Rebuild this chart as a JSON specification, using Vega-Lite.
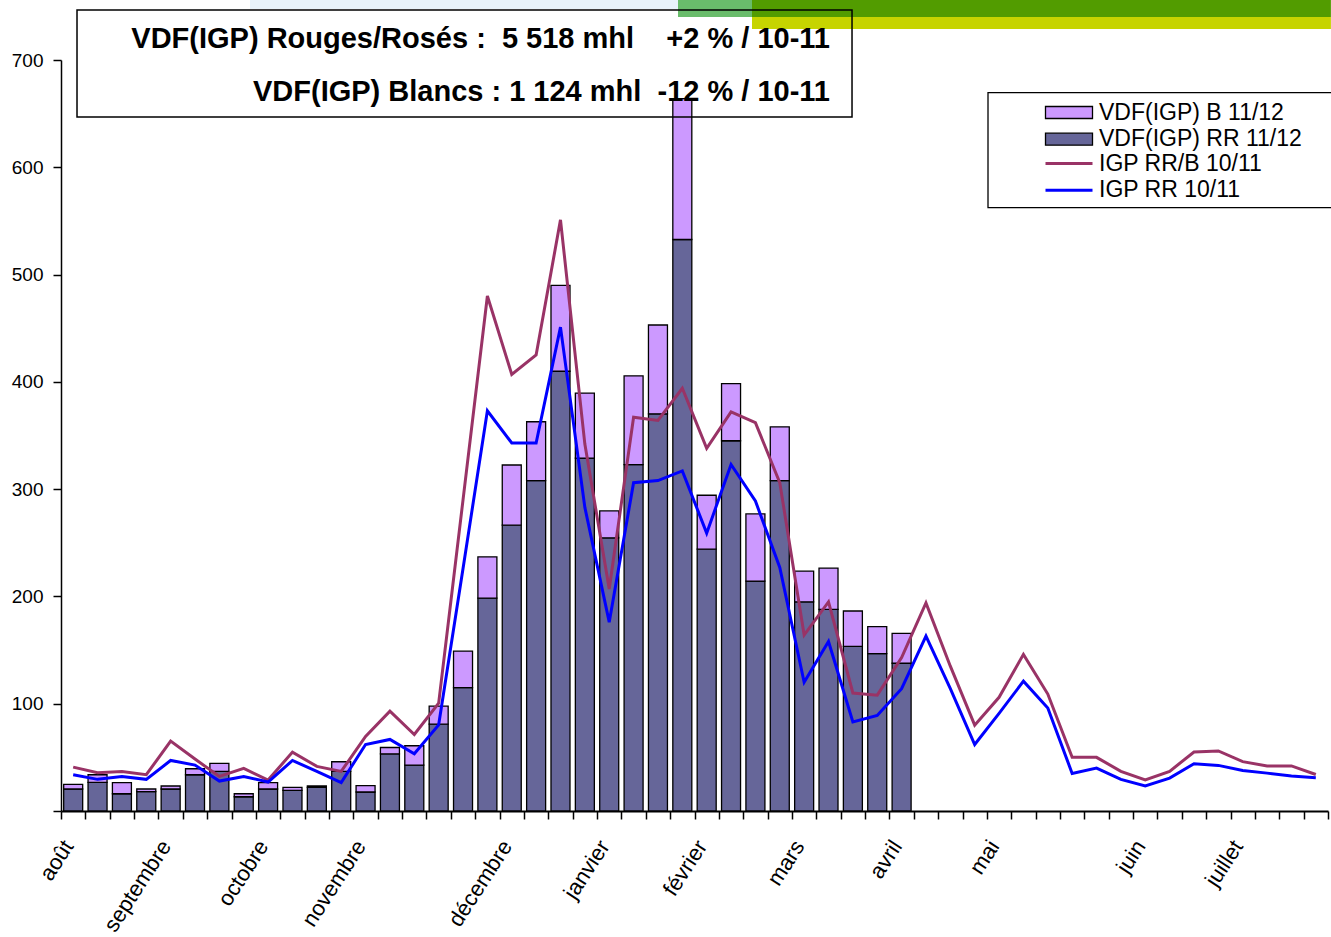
{
  "$schema": "https://vega.github.io/schema/vega-lite/v6.json",
  "width": 1267,
  "height": 751,
  "autosize": "none",
  "padding": {"left": 61, "top": 60, "right": 3, "bottom": 126},
  "background": "white",
  "config": {"view": {"stroke": null}, "font": "Liberation Sans"},
  "datasets": {
    "d": [
      {"w": 1, "VDF(IGP) RR 11/12": 20.5, "VDF(IGP) B 11/12": 4.3, "IGP RR/B 10/11": 40.9, "IGP RR 10/11": 33.8},
      {"w": 2, "VDF(IGP) RR 11/12": 26.7, "VDF(IGP) B 11/12": 7.1, "IGP RR/B 10/11": 35.7, "IGP RR 10/11": 29.5},
      {"w": 3, "VDF(IGP) RR 11/12": 16.1, "VDF(IGP) B 11/12": 10.3, "IGP RR/B 10/11": 36.9, "IGP RR 10/11": 32.2},
      {"w": 4, "VDF(IGP) RR 11/12": 18.0, "VDF(IGP) B 11/12": 2.5, "IGP RR/B 10/11": 33.8, "IGP RR 10/11": 29.5},
      {"w": 5, "VDF(IGP) RR 11/12": 20.5, "VDF(IGP) B 11/12": 2.8, "IGP RR/B 10/11": 65.1, "IGP RR 10/11": 47.1},
      {"w": 6, "VDF(IGP) RR 11/12": 33.8, "VDF(IGP) B 11/12": 5.6, "IGP RR/B 10/11": 48.4, "IGP RR 10/11": 42.8},
      {"w": 7, "VDF(IGP) RR 11/12": 36.9, "VDF(IGP) B 11/12": 7.4, "IGP RR/B 10/11": 32.2, "IGP RR 10/11": 27.9},
      {"w": 8, "VDF(IGP) RR 11/12": 13.3, "VDF(IGP) B 11/12": 2.8, "IGP RR/B 10/11": 39.7, "IGP RR 10/11": 32.2},
      {"w": 9, "VDF(IGP) RR 11/12": 20.5, "VDF(IGP) B 11/12": 5.9, "IGP RR/B 10/11": 28.8, "IGP RR 10/11": 27.0},
      {"w": 10, "VDF(IGP) RR 11/12": 19.2, "VDF(IGP) B 11/12": 2.8, "IGP RR/B 10/11": 54.9, "IGP RR 10/11": 47.1},
      {"w": 11, "VDF(IGP) RR 11/12": 22.0, "VDF(IGP) B 11/12": 1.3, "IGP RR/B 10/11": 41.6, "IGP RR 10/11": 36.9},
      {"w": 12, "VDF(IGP) RR 11/12": 36.9, "VDF(IGP) B 11/12": 9.0, "IGP RR/B 10/11": 36.9, "IGP RR 10/11": 26.4},
      {"w": 13, "VDF(IGP) RR 11/12": 17.7, "VDF(IGP) B 11/12": 5.9, "IGP RR/B 10/11": 69.5, "IGP RR 10/11": 62.0},
      {"w": 14, "VDF(IGP) RR 11/12": 53.3, "VDF(IGP) B 11/12": 5.9, "IGP RR/B 10/11": 93.0, "IGP RR 10/11": 66.7},
      {"w": 15, "VDF(IGP) RR 11/12": 42.8, "VDF(IGP) B 11/12": 18.0, "IGP RR/B 10/11": 71.3, "IGP RR 10/11": 53.3},
      {"w": 16, "VDF(IGP) RR 11/12": 80.9, "VDF(IGP) B 11/12": 16.8, "IGP RR/B 10/11": 100.5, "IGP RR 10/11": 80.3},
      {"w": 17, "VDF(IGP) RR 11/12": 115.0, "VDF(IGP) B 11/12": 34.1, "IGP RR/B 10/11": 290, "IGP RR 10/11": 226},
      {"w": 18, "VDF(IGP) RR 11/12": 198.4, "VDF(IGP) B 11/12": 38.5, "IGP RR/B 10/11": 480, "IGP RR 10/11": 373},
      {"w": 19, "VDF(IGP) RR 11/12": 266.4, "VDF(IGP) B 11/12": 56.1, "IGP RR/B 10/11": 407, "IGP RR 10/11": 343},
      {"w": 20, "VDF(IGP) RR 11/12": 307.9, "VDF(IGP) B 11/12": 54.9, "IGP RR/B 10/11": 425, "IGP RR 10/11": 343},
      {"w": 21, "VDF(IGP) RR 11/12": 409.9, "VDF(IGP) B 11/12": 80.0, "IGP RR/B 10/11": 551, "IGP RR 10/11": 451},
      {"w": 22, "VDF(IGP) RR 11/12": 329.0, "VDF(IGP) B 11/12": 60.5, "IGP RR/B 10/11": 342, "IGP RR 10/11": 283},
      {"w": 23, "VDF(IGP) RR 11/12": 254.6, "VDF(IGP) B 11/12": 25.1, "IGP RR/B 10/11": 207, "IGP RR 10/11": 176},
      {"w": 24, "VDF(IGP) RR 11/12": 322.8, "VDF(IGP) B 11/12": 82.8, "IGP RR/B 10/11": 367, "IGP RR 10/11": 306},
      {"w": 25, "VDF(IGP) RR 11/12": 370.2, "VDF(IGP) B 11/12": 82.8, "IGP RR/B 10/11": 364, "IGP RR 10/11": 308},
      {"w": 26, "VDF(IGP) RR 11/12": 532.7, "VDF(IGP) B 11/12": 131.3, "IGP RR/B 10/11": 394, "IGP RR 10/11": 317},
      {"w": 27, "VDF(IGP) RR 11/12": 244.0, "VDF(IGP) B 11/12": 50.3, "IGP RR/B 10/11": 338, "IGP RR 10/11": 259},
      {"w": 28, "VDF(IGP) RR 11/12": 345.1, "VDF(IGP) B 11/12": 53.3, "IGP RR/B 10/11": 372, "IGP RR 10/11": 323},
      {"w": 29, "VDF(IGP) RR 11/12": 214.3, "VDF(IGP) B 11/12": 62.6, "IGP RR/B 10/11": 362, "IGP RR 10/11": 289},
      {"w": 30, "VDF(IGP) RR 11/12": 307.9, "VDF(IGP) B 11/12": 50.2, "IGP RR/B 10/11": 306, "IGP RR 10/11": 227},
      {"w": 31, "VDF(IGP) RR 11/12": 195.0, "VDF(IGP) B 11/12": 28.6, "IGP RR/B 10/11": 164, "IGP RR 10/11": 120},
      {"w": 32, "VDF(IGP) RR 11/12": 187.9, "VDF(IGP) B 11/12": 38.5, "IGP RR/B 10/11": 195, "IGP RR 10/11": 158},
      {"w": 33, "VDF(IGP) RR 11/12": 153.5, "VDF(IGP) B 11/12": 32.9, "IGP RR/B 10/11": 110, "IGP RR 10/11": 83},
      {"w": 34, "VDF(IGP) RR 11/12": 146.7, "VDF(IGP) B 11/12": 25.1, "IGP RR/B 10/11": 108, "IGP RR 10/11": 89},
      {"w": 35, "VDF(IGP) RR 11/12": 137.7, "VDF(IGP) B 11/12": 27.9, "IGP RR/B 10/11": 143, "IGP RR 10/11": 114},
      {"w": 36, "IGP RR/B 10/11": 194, "IGP RR 10/11": 163},
      {"w": 37, "IGP RR/B 10/11": 135, "IGP RR 10/11": 114},
      {"w": 38, "IGP RR/B 10/11": 80, "IGP RR 10/11": 62},
      {"w": 39, "IGP RR/B 10/11": 106, "IGP RR 10/11": 91},
      {"w": 40, "IGP RR/B 10/11": 146, "IGP RR 10/11": 121},
      {"w": 41, "IGP RR/B 10/11": 109, "IGP RR 10/11": 96},
      {"w": 42, "IGP RR/B 10/11": 50, "IGP RR 10/11": 35},
      {"w": 43, "IGP RR/B 10/11": 50, "IGP RR 10/11": 40},
      {"w": 44, "IGP RR/B 10/11": 37, "IGP RR 10/11": 29.5},
      {"w": 45, "IGP RR/B 10/11": 29, "IGP RR 10/11": 23.3},
      {"w": 46, "IGP RR/B 10/11": 37, "IGP RR 10/11": 30.7},
      {"w": 47, "IGP RR/B 10/11": 55, "IGP RR 10/11": 44},
      {"w": 48, "IGP RR/B 10/11": 56, "IGP RR 10/11": 42.5},
      {"w": 49, "IGP RR/B 10/11": 46, "IGP RR 10/11": 37.8},
      {"w": 50, "IGP RR/B 10/11": 42, "IGP RR 10/11": 35.3},
      {"w": 51, "IGP RR/B 10/11": 42, "IGP RR 10/11": 32.6},
      {"w": 52, "IGP RR/B 10/11": 34, "IGP RR 10/11": 31}
    ]
  },
  "layer": [
    {
      "data": {"name": "d"},
      "transform": [
        {"fold": ["VDF(IGP) RR 11/12", "VDF(IGP) B 11/12"], "as": ["serie", "v"]},
        {"filter": "isValid(datum.v)"}
      ],
      "mark": {"type": "bar", "width": 19, "stroke": "black", "strokeWidth": 1.3},
      "encoding": {
        "x": {
          "field": "w", "type": "quantitative",
          "scale": {"domain": [0.5, 52.5], "nice": false, "zero": false, "padding": 0},
          "axis": {
            "title": null, "grid": false,
            "values": [0.5,1.5,2.5,3.5,4.5,5.5,6.5,7.5,8.5,9.5,10.5,11.5,12.5,13.5,14.5,15.5,16.5,17.5,18.5,19.5,20.5,21.5,22.5,23.5,24.5,25.5,26.5,27.5,28.5,29.5,30.5,31.5,32.5,33.5,34.5,35.5,36.5,37.5,38.5,39.5,40.5,41.5,42.5,43.5,44.5,45.5,46.5,47.5,48.5,49.5,50.5,51.5,52.5],
            "tickCount": 200,
            "labelExpr": "datum.value == 0.5 ? 'août' : datum.value == 4.5 ? 'septembre' : datum.value == 8.5 ? 'octobre' : datum.value == 12.5 ? 'novembre' : datum.value == 18.5 ? 'décembre' : datum.value == 22.5 ? 'janvier' : datum.value == 26.5 ? 'février' : datum.value == 30.5 ? 'mars' : datum.value == 34.5 ? 'avril' : datum.value == 38.5 ? 'mai' : datum.value == 44.5 ? 'juin' : datum.value == 48.5 ? 'juillet' : ''",
            "labelOffset": 7,
            "labelAngle": -57,
            "labelAlign": "right",
            "labelBaseline": "middle",
            "labelPadding": 23,
            "labelFontSize": 22,
            "labelFont": "Liberation Sans",
            "labelColor": "black",
            "labelOverlap": false,
            "labelFlush": false,
            "labelBound": false,
            "tickSize": 8,
            "tickColor": "black",
            "tickWidth": 1.5,
            "domainColor": "black",
            "domainWidth": 2
          }
        },
        "y": {
          "field": "v", "type": "quantitative", "stack": "zero",
          "scale": {"domain": [0, 700], "nice": false, "padding": 0},
          "axis": {
            "title": null, "grid": false,
            "values": [0, 100, 200, 300, 400, 500, 600, 700],
            "tickCount": 20,
            "labelExpr": "datum.value == 0 ? '' : datum.label",
            "labelFontSize": 19,
            "labelFont": "Liberation Sans",
            "labelColor": "black",
            "labelPadding": 10,
            "tickSize": 8,
            "tickColor": "black",
            "tickWidth": 1.5,
            "domainColor": "black",
            "domainWidth": 1.5
          }
        },
        "fill": {
          "field": "serie", "type": "nominal",
          "scale": {"domain": ["VDF(IGP) B 11/12", "VDF(IGP) RR 11/12"], "range": ["#cc99ff", "#666699"]},
          "legend": {
            "orient": "none",
            "legendX": 927,
            "legendY": 33,
            "title": null,
            "padding": 8,
            "labelFont": "Liberation Sans",
            "labelFontSize": 23,
            "labelColor": "black",
            "labelLimit": 400,
            "rowPadding": 2.7,
            "symbolSize": 100,
            "symbolOffset": 61.5,
            "labelOffset": 18.5,
            "symbolType": "M-4.7,-1.2H4.7V1.2H-4.7Z",
            "symbolStrokeColor": "black",
            "symbolStrokeWidth": 1.3,
            "symbolOpacity": 1
          }
        },
        "detail": {"field": "serie"},
        "order": {"field": "serie", "sort": "descending"}
      }
    },
    {
      "data": {"name": "d"},
      "transform": [
        {"fold": ["IGP RR/B 10/11", "IGP RR 10/11"], "as": ["serie", "v"]},
        {"filter": "isValid(datum.v)"}
      ],
      "mark": {"type": "line", "strokeWidth": 3},
      "encoding": {
        "x": {"field": "w", "type": "quantitative", "scale": {"domain": [0.5, 52.5], "nice": false, "zero": false, "padding": 0}},
        "y": {"field": "v", "type": "quantitative", "scale": {"domain": [0, 700], "nice": false, "padding": 0}},
        "stroke": {
          "field": "serie", "type": "nominal",
          "scale": {"domain": ["IGP RR/B 10/11", "IGP RR 10/11"], "range": ["#993366", "#0000ff"]},
          "legend": {
            "orient": "none",
            "legendX": 927,
            "legendY": 84,
            "title": null,
            "padding": 8,
            "labelFont": "Liberation Sans",
            "labelFontSize": 23,
            "labelColor": "black",
            "labelLimit": 400,
            "rowPadding": 2.7,
            "symbolSize": 100,
            "symbolOffset": 61.5,
            "labelOffset": 18.5,
            "symbolType": "M-4.7,0H4.7",
            "symbolStrokeWidth": 3,
            "symbolFillColor": "transparent"
          }
        }
      }
    },
    {
      "data": {"values": [{}]},
      "mark": {"type": "rect", "fill": "#e8f3fa"},
      "encoding": {
        "x": {"datum": 8.257, "type": "quantitative"},
        "x2": {"datum": 25.823},
        "y": {"datum": 755.93, "type": "quantitative"},
        "y2": {"datum": 747.46}
      }
    },
    {
      "data": {"values": [{}]},
      "mark": {"type": "rect", "fill": "#69bc6b"},
      "encoding": {
        "x": {"datum": 25.823, "type": "quantitative"},
        "x2": {"datum": 28.86},
        "y": {"datum": 755.93, "type": "quantitative"},
        "y2": {"datum": 740.08}
      }
    },
    {
      "data": {"values": [{}]},
      "mark": {"type": "rect", "fill": "#529c00"},
      "encoding": {
        "x": {"datum": 28.86, "type": "quantitative"},
        "x2": {"datum": 52.62},
        "y": {"datum": 755.93, "type": "quantitative"},
        "y2": {"datum": 740.08}
      }
    },
    {
      "data": {"values": [{}]},
      "mark": {"type": "rect", "fill": "#c6d400"},
      "encoding": {
        "x": {"datum": 28.86, "type": "quantitative"},
        "x2": {"datum": 52.62},
        "y": {"datum": 740.08, "type": "quantitative"},
        "y2": {"datum": 728.9}
      }
    },
    {
      "data": {"values": [{}]},
      "mark": {"type": "rect", "filled": false, "stroke": "black", "strokeWidth": 1.5},
      "encoding": {
        "x": {"datum": 1.157, "type": "quantitative"},
        "x2": {"datum": 32.965},
        "y": {"datum": 746.6, "type": "quantitative"},
        "y2": {"datum": 646.87}
      }
    },
    {
      "data": {"values": [{}]},
      "mark": {"type": "rect", "filled": false, "stroke": "black", "strokeWidth": 1.3},
      "encoding": {
        "x": {"datum": 38.546, "type": "quantitative"},
        "x2": {"datum": 52.75},
        "y": {"datum": 669.52, "type": "quantitative"},
        "y2": {"datum": 562.33}
      }
    },
    {
      "data": {"values": [{"t": "VDF(IGP) Rouges/Rosés :\u00a0\u00a05 518 mhl\u00a0\u00a0\u00a0\u00a0+2 % / 10-11"}]},
      "mark": {"type": "text", "align": "right", "baseline": "middle", "font": "Liberation Sans", "fontSize": 29, "fontWeight": "bold", "color": "black"},
      "encoding": {
        "x": {"datum": 32.06, "type": "quantitative"},
        "y": {"datum": 719.6, "type": "quantitative"},
        "text": {"field": "t"}
      }
    },
    {
      "data": {"values": [{"t": "VDF(IGP) Blancs : 1 124 mhl\u00a0\u00a0-12 % / 10-11"}]},
      "mark": {"type": "text", "align": "right", "baseline": "middle", "font": "Liberation Sans", "fontSize": 29, "fontWeight": "bold", "color": "black"},
      "encoding": {
        "x": {"datum": 32.06, "type": "quantitative"},
        "y": {"datum": 670.2, "type": "quantitative"},
        "text": {"field": "t"}
      }
    }
  ]
}
